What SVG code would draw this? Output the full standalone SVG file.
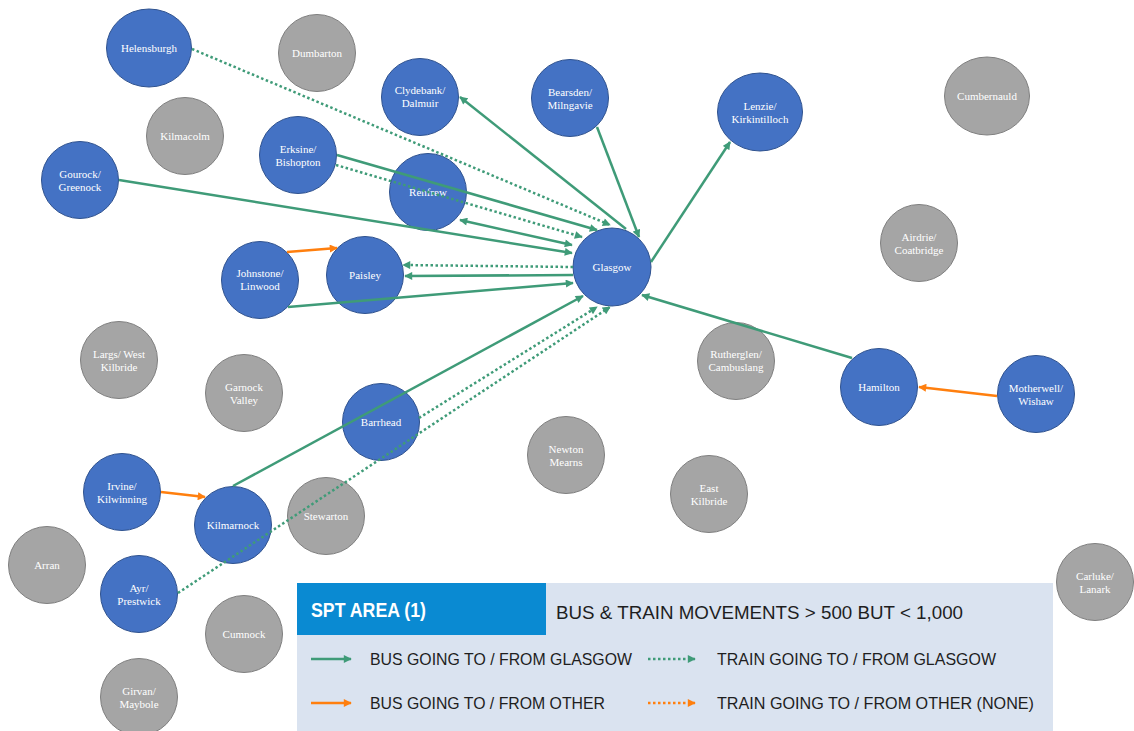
<svg xmlns="http://www.w3.org/2000/svg" width="1134" height="731" viewBox="0 0 1134 731">
  <defs>
    <style>
      .blue { fill: #4472C4; stroke: #2F528F; stroke-width: 1; }
      .grey { fill: #A5A5A5; stroke: #7F7F7F; stroke-width: 1; }
      .lbl { font-family: "Liberation Serif", "Times New Roman", serif; font-size: 11px; fill: #FFFFFF; text-anchor: middle; }
      .bus { stroke: #3F9B78; stroke-width: 2.5; fill: none; marker-end: url(#ah-green); }
      .train { stroke: #3F9B78; stroke-width: 2.5; fill: none; stroke-dasharray: 2.5 2.5; marker-end: url(#ah-green); }
      .other { stroke: #FF7F0E; stroke-width: 2.5; fill: none; marker-end: url(#ah-orange); }
      .otrain { stroke: #FF7F0E; stroke-width: 2.5; fill: none; stroke-dasharray: 2.5 2.5; marker-end: url(#ah-orange); }
      .both { marker-start: url(#ah-green); }
      .lg { font-family: "Liberation Sans", Arial, sans-serif; fill: #1E1E1E; }
    </style>
    <marker id="ah-green" viewBox="0 0 10 10" refX="9" refY="5" markerWidth="9" markerHeight="8" markerUnits="userSpaceOnUse" orient="auto-start-reverse">
      <path d="M0,0 L10,5 L0,10 Z" fill="#3F9B78"/>
    </marker>
    <marker id="ah-orange" viewBox="0 0 10 10" refX="9" refY="5" markerWidth="9" markerHeight="8" markerUnits="userSpaceOnUse" orient="auto-start-reverse">
      <path d="M0,0 L10,5 L0,10 Z" fill="#FF7F0E"/>
    </marker>
  </defs>

  <rect width="1134" height="731" fill="#FFFFFF"/>

  <!-- towns outside the flows (grey) -->
  <g id="dumbarton"><circle class="grey" cx="317" cy="53" r="38.5"/><text class="lbl" x="317" y="57">Dumbarton</text></g>
  <g id="kilmacolm"><circle class="grey" cx="185" cy="136" r="38.5"/><text class="lbl" x="185" y="140">Kilmacolm</text></g>
  <g id="cumbernauld"><ellipse class="grey" cx="987" cy="96" rx="42.5" ry="39"/><text class="lbl" x="987" y="100">Cumbernauld</text></g>
  <g id="airdrie"><circle class="grey" cx="919" cy="243" r="38.5"/><text class="lbl" x="919" y="241">Airdrie/</text><text class="lbl" x="919" y="254">Coatbridge</text></g>
  <g id="rutherglen"><circle class="grey" cx="736" cy="361" r="38.5"/><text class="lbl" x="736" y="358">Rutherglen/</text><text class="lbl" x="736" y="371">Cambuslang</text></g>
  <g id="largs"><circle class="grey" cx="119" cy="360" r="38.5"/><text class="lbl" x="119" y="358">Largs/ West</text><text class="lbl" x="119" y="371">Kilbride</text></g>
  <g id="garnock"><circle class="grey" cx="244" cy="393" r="38.5"/><text class="lbl" x="244" y="391">Garnock</text><text class="lbl" x="244" y="404">Valley</text></g>
  <g id="newton-mearns"><circle class="grey" cx="566" cy="455" r="38.5"/><text class="lbl" x="566" y="453">Newton</text><text class="lbl" x="566" y="466">Mearns</text></g>
  <g id="east-kilbride"><circle class="grey" cx="709" cy="494" r="38.5"/><text class="lbl" x="709" y="492">East</text><text class="lbl" x="709" y="505">Kilbride</text></g>
  <g id="stewarton"><circle class="grey" cx="326" cy="516" r="38.5"/><text class="lbl" x="326" y="520">Stewarton</text></g>
  <g id="arran"><circle class="grey" cx="47" cy="565" r="38.5"/><text class="lbl" x="47" y="569">Arran</text></g>
  <g id="cumnock"><circle class="grey" cx="244" cy="634" r="38.5"/><text class="lbl" x="244" y="638">Cumnock</text></g>
  <g id="girvan"><circle class="grey" cx="139" cy="697" r="38.5"/><text class="lbl" x="139" y="695">Girvan/</text><text class="lbl" x="139" y="708">Maybole</text></g>
  <g id="carluke"><circle class="grey" cx="1095" cy="582" r="38.5"/><text class="lbl" x="1095" y="580">Carluke/</text><text class="lbl" x="1095" y="593">Lanark</text></g>

  <!-- towns with flows (blue) -->
  <g id="helensburgh"><ellipse class="blue" cx="149" cy="48" rx="42.5" ry="39"/><text class="lbl" x="149" y="52">Helensburgh</text></g>
  <g id="clydebank"><circle class="blue" cx="420" cy="97" r="38.5"/><text class="lbl" x="420" y="94">Clydebank/</text><text class="lbl" x="420" y="107">Dalmuir</text></g>
  <g id="bearsden"><circle class="blue" cx="570" cy="98" r="38.5"/><text class="lbl" x="570" y="96">Bearsden/</text><text class="lbl" x="570" y="109">Milngavie</text></g>
  <g id="lenzie"><ellipse class="blue" cx="760" cy="112" rx="42.5" ry="39"/><text class="lbl" x="760" y="110">Lenzie/</text><text class="lbl" x="760" y="123">Kirkintilloch</text></g>
  <g id="erskine"><circle class="blue" cx="298" cy="155" r="38.5"/><text class="lbl" x="298" y="153">Erksine/</text><text class="lbl" x="298" y="166">Bishopton</text></g>
  <g id="gourock"><circle class="blue" cx="80" cy="180" r="38.5"/><text class="lbl" x="80" y="178">Gourock/</text><text class="lbl" x="80" y="191">Greenock</text></g>
  <g id="renfrew"><circle class="blue" cx="428" cy="192" r="38.5"/><text class="lbl" x="428" y="196">Renfrew</text></g>
  <g id="glasgow"><circle class="blue" cx="612" cy="267" r="39"/><text class="lbl" x="612" y="271">Glasgow</text></g>
  <g id="johnstone"><circle class="blue" cx="260" cy="280" r="38.5"/><text class="lbl" x="260" y="277">Johnstone/</text><text class="lbl" x="260" y="290">Linwood</text></g>
  <g id="paisley"><circle class="blue" cx="365" cy="275" r="38.5"/><text class="lbl" x="365" y="279">Paisley</text></g>
  <g id="hamilton"><circle class="blue" cx="879" cy="387" r="38.5"/><text class="lbl" x="879" y="391">Hamilton</text></g>
  <g id="motherwell"><circle class="blue" cx="1036" cy="394" r="38.5"/><text class="lbl" x="1036" y="392">Motherwell/</text><text class="lbl" x="1036" y="405">Wishaw</text></g>
  <g id="barrhead"><circle class="blue" cx="381" cy="422" r="38.5"/><text class="lbl" x="381" y="426">Barrhead</text></g>
  <g id="irvine"><circle class="blue" cx="122" cy="492" r="38.5"/><text class="lbl" x="122" y="490">Irvine/</text><text class="lbl" x="122" y="503">Kilwinning</text></g>
  <g id="kilmarnock"><circle class="blue" cx="233" cy="525" r="38.5"/><text class="lbl" x="233" y="529">Kilmarnock</text></g>
  <g id="ayr"><circle class="blue" cx="139" cy="594" r="38.5"/><text class="lbl" x="139" y="592">Ayr/</text><text class="lbl" x="139" y="605">Prestwick</text></g>

  <!-- flows -->
  <g id="connectors">
    <line class="train" x1="192" y1="49" x2="610" y2="225"/>
    <line class="bus" x1="337" y1="155" x2="597" y2="230"/>
    <line class="train" x1="336" y1="165" x2="582" y2="237"/>
    <line class="bus" x1="119" y1="180" x2="572" y2="253"/>
    <line class="bus both" x1="460" y1="220" x2="572" y2="245"/>
    <line class="bus" x1="626" y1="229" x2="460" y2="97"/>
    <line class="bus" x1="597" y1="127" x2="639" y2="237"/>
    <line class="bus" x1="651" y1="262" x2="730" y2="142"/>
    <line class="bus" x1="852" y1="358" x2="642" y2="295"/>
    <line class="other" x1="997" y1="396" x2="919" y2="387"/>
    <line class="train" x1="573" y1="267" x2="403" y2="265"/>
    <line class="bus" x1="573" y1="275" x2="405" y2="276"/>
    <line class="bus" x1="288" y1="307" x2="573" y2="283"/>
    <line class="other" x1="287" y1="252" x2="337" y2="248"/>
    <line class="bus" x1="233" y1="486" x2="583" y2="296"/>
    <line class="train" x1="419" y1="418" x2="597" y2="307"/>
    <line class="train" x1="178" y1="593" x2="610" y2="307"/>
    <line class="other" x1="161" y1="492" x2="205" y2="497"/>
  </g>

  <!-- key -->
  <g id="legend">
    <rect x="297" y="583" width="756" height="148" fill="#DAE3F0"/>
    <rect x="297" y="583" width="249" height="52" fill="#0A8AD2"/>
    <text class="lg" x="311" y="617" font-size="21" font-weight="bold" fill="#FFFFFF" style="fill:#FFFFFF" textLength="115" lengthAdjust="spacingAndGlyphs">SPT AREA (1)</text>
    <text class="lg" x="556" y="619" font-size="18.5" textLength="407" lengthAdjust="spacingAndGlyphs">BUS &amp; TRAIN MOVEMENTS &gt; 500 BUT &lt; 1,000</text>
    <line class="bus" x1="311" y1="659" x2="351" y2="659"/>
    <text class="lg" x="370" y="665" font-size="16.5" textLength="262" lengthAdjust="spacingAndGlyphs">BUS GOING TO / FROM GLASGOW</text>
    <line class="train" x1="648" y1="659" x2="695" y2="659"/>
    <text class="lg" x="717" y="665" font-size="16.5" textLength="279" lengthAdjust="spacingAndGlyphs">TRAIN GOING TO / FROM GLASGOW</text>
    <line class="other" x1="311" y1="703" x2="351" y2="703"/>
    <text class="lg" x="370" y="709" font-size="16.5" textLength="235" lengthAdjust="spacingAndGlyphs">BUS GOING TO / FROM OTHER</text>
    <line class="otrain" x1="648" y1="703" x2="695" y2="703"/>
    <text class="lg" x="717" y="709" font-size="16.5" textLength="317" lengthAdjust="spacingAndGlyphs">TRAIN GOING TO / FROM OTHER (NONE)</text>
  </g>
</svg>
